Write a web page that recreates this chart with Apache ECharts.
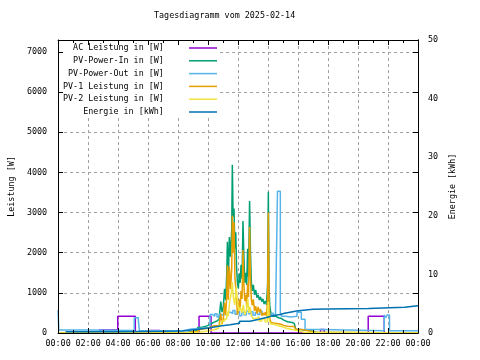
<!DOCTYPE html>
<html><head><meta charset="utf-8">
<script src="https://cdn.jsdelivr.net/npm/echarts@6/dist/echarts.min.js"></script>
<style>html,body{margin:0;padding:0;background:#fff}#c{width:480px;height:360px}</style>
</head><body><div id="c"></div>
<script>
const titleText = 'Tagesdiagramm vom 2025-02-14';
const xTickLabels = ['00:00','02:00','04:00','06:00','08:00','10:00','12:00','14:00','16:00','18:00','20:00','22:00','00:00'];
const leftAxisName = 'Leistung [W]';
const rightAxisName = 'Energie [kWh]';
const seriesNames = ['AC Leistung in [W]','PV-Power-In in [W]','PV-Power-Out in [W]','PV-1 Leistung in [W]','PV-2 Leistung in [W]','Energie in [kWh]'];

// [hour, W]
const acLeistung = [[0,0],[2.75,75],[3.98,420],[5.15,0],[6.13,60],[6.8,0],[9.4,420],[10.2,0],[17.5,90],[17.75,0],[20.68,420],[21.75,0],[24,0]];
const pvPowerIn = [[0,0],[8.2,0],[8.4,20],[8.7,40],[9.0,70],[9.3,140],[9.5,160],[9.8,190],[10.0,230],[10.2,270],[10.4,300],[10.6,340],[10.75,420],[10.85,780],[10.93,520],[11.02,650],[11.1,1100],[11.18,820],[11.25,1500],[11.29,2270],[11.35,1250],[11.42,2390],[11.5,1900],[11.58,2600],[11.62,4190],[11.67,2900],[11.73,3100],[11.79,2100],[11.85,2510],[11.9,1650],[11.96,1250],[12.02,1110],[12.08,1490],[12.14,1250],[12.2,1700],[12.27,1350],[12.33,2790],[12.39,1900],[12.45,1250],[12.52,1500],[12.58,1200],[12.64,2100],[12.7,1400],[12.77,3290],[12.83,2000],[12.89,1250],[12.95,1050],[13.02,1200],[13.1,950],[13.18,1070],[13.26,880],[13.34,950],[13.42,820],[13.5,900],[13.58,780],[13.66,850],[13.74,720],[13.82,800],[13.9,700],[13.97,1200],[14.02,3520],[14.07,1050],[14.12,650],[14.2,480],[14.3,420],[14.5,380],[14.7,360],[14.9,320],[15.05,280],[15.3,260],[15.6,240],[15.75,200],[15.85,90],[16.2,70],[16.6,50],[16.9,30],[17.1,10],[17.25,0],[24,0]];
const pvPowerOut = [[0,570],[0.05,75],[2.0,60],[5.08,380],[5.35,330],[5.42,55],[8.3,100],[8.9,130],[10.13,460],[10.3,420],[10.45,480],[10.6,400],[10.75,470],[10.9,430],[11.05,500],[11.2,450],[11.35,520],[11.5,480],[11.65,560],[11.8,470],[11.95,540],[12.1,430],[12.25,520],[12.4,450],[12.55,550],[12.7,480],[12.85,530],[13.0,440],[13.15,510],[13.3,460],[13.45,540],[13.6,470],[13.75,500],[13.9,430],[14.05,470],[14.2,500],[14.35,440],[14.5,490],[14.63,3530],[14.82,500],[14.9,420],[15.2,400],[15.5,420],[15.93,520],[16.22,340],[16.47,90],[17.6,55],[21.75,450],[21.85,380],[21.95,450],[22.1,55],[24,55]];
const pv1Leistung = [[0,0],[8.2,0],[8.4,10],[8.7,30],[9.0,45],[9.3,90],[9.5,110],[9.8,110],[10.0,150],[10.2,180],[10.4,180],[10.6,170],[10.75,220],[10.85,480],[10.93,220],[11.02,350],[11.1,750],[11.18,450],[11.25,950],[11.29,1690],[11.35,830],[11.42,1650],[11.5,1100],[11.58,1600],[11.62,2930],[11.67,2000],[11.73,2760],[11.79,1400],[11.85,1360],[11.9,900],[11.96,450],[12.02,560],[12.08,840],[12.14,600],[12.2,1050],[12.27,850],[12.33,2070],[12.39,1200],[12.45,800],[12.52,950],[12.58,650],[12.64,1240],[12.7,900],[12.77,2640],[12.83,1350],[12.89,830],[12.95,690],[13.02,840],[13.1,550],[13.18,670],[13.26,480],[13.34,650],[13.42,520],[13.5,600],[13.58,430],[13.66,500],[13.74,440],[13.82,520],[13.9,420],[13.97,850],[14.02,3000],[14.07,750],[14.12,350],[14.2,260],[14.3,240],[14.5,230],[14.7,210],[14.9,190],[15.05,170],[15.3,160],[15.6,160],[15.75,140],[15.85,90],[16.2,60],[16.6,40],[16.9,20],[17.1,10],[17.2,0],[24,0]];
const pv2Leistung = [[0,0],[8.3,0],[8.6,10],[9.0,25],[9.5,50],[10.0,80],[10.4,120],[10.7,200],[10.9,300],[11.1,350],[11.25,550],[11.35,420],[11.45,800],[11.55,1000],[11.62,1270],[11.68,900],[11.78,700],[11.88,1150],[11.95,800],[12.05,550],[12.15,650],[12.25,500],[12.35,700],[12.45,450],[12.55,550],[12.65,860],[12.72,500],[12.8,650],[12.9,420],[13.0,360],[13.2,400],[13.4,300],[13.6,350],[13.8,280],[13.95,350],[14.02,780],[14.08,300],[14.2,220],[14.4,180],[14.7,150],[15.0,110],[15.3,90],[15.6,60],[15.9,40],[16.2,20],[16.4,0],[24,0]];
// [hour, kWh]
const energie = [[0.5,0.2],[3.7,0.3],[7.0,0.35],[8.3,0.6],[9.2,0.9],[10.13,1.19],[10.8,1.4],[11.47,1.65],[12.1,2.0],[12.8,2.33],[13.4,2.65],[13.9,2.95],[14.3,3.15],[14.8,3.36],[15.1,3.55],[15.47,3.75],[15.9,3.9],[16.35,4.04],[17.0,4.1],[18.0,4.2],[20.7,4.38],[23.1,4.65],[24,4.65]];

const seriesData = [acLeistung, pvPowerIn, pvPowerOut, pv1Leistung, pv2Leistung, energie];
const colors = ['#9400d3','#009e73','#56b4e9','#e69f00','#f0e442','#0072b2'];
const FONT = 'DejaVu Sans Mono';
const FS = 8.4;
const txt = {fontFamily: FONT, fontSize: FS, color: '#000', fontWeight: 'normal'};
const black = {color: '#000', width: 1};
const gridLine = {show: true, lineStyle: {color: '#a0a0a0', width: 1, type: [3, 3]}};

const chart = echarts.init(document.getElementById('c'), null, {renderer: 'canvas'});
chart.setOption({
  animation: false,
  backgroundColor: '#fff',
  title: {text: titleText, left: 154, top: 12, padding: 0, textStyle: Object.assign({}, txt)},
  grid: {left: 58, right: 62, top: 40, bottom: 27, containLabel: false},
  legend: {
    orient: 'vertical', left: 59, top: 41, padding: [1, 3, 0, 4], itemGap: 0.8,
    itemWidth: 28, itemHeight: 1.5, align: 'right', icon: 'rect', backgroundColor: '#fff',
    selectedMode: false, data: seriesNames, formatter: n => n + '    ',
    textStyle: Object.assign({lineHeight: 12}, txt)
  },
  xAxis: [
    {type: 'value', min: 0, max: 24, interval: 2, position: 'bottom',
     axisLine: {show: false}, axisTick: {show: false}, splitLine: gridLine,
     axisLabel: Object.assign({margin: 7, showMinLabel: true, showMaxLabel: true,
       formatter: v => xTickLabels[Math.round(v / 2)]}, txt)},
    {type: 'value', min: 0, max: 24, interval: 2, position: 'bottom', z: 10,
     axisLine: {show: true, onZero: false, lineStyle: black},
     axisTick: {show: true, inside: true, length: 5, lineStyle: black},
     minorTick: {show: true, splitNumber: 2, length: 3, lineStyle: black},
     axisLabel: {show: false}, splitLine: {show: false}},
    {type: 'value', min: 0, max: 24, interval: 2, position: 'top', z: 10,
     axisLine: {show: true, onZero: false, lineStyle: black},
     axisTick: {show: true, inside: true, length: 5, lineStyle: black},
     minorTick: {show: true, splitNumber: 2, length: 3, lineStyle: black},
     axisLabel: {show: false}, splitLine: {show: false}}
  ],
  yAxis: [
    {type: 'value', min: 0, max: 7300, interval: 1000, position: 'left',
     axisLine: {show: false}, axisTick: {show: false}, splitLine: gridLine,
     axisLabel: Object.assign({margin: 11, showMaxLabel: false, padding: [0, 0, 4, 0],
       formatter: v => String(v)}, txt),
     name: leftAxisName, nameLocation: 'middle', nameRotate: 90, nameGap: 39,
     nameTextStyle: Object.assign({}, txt)},
    {type: 'value', min: 0, max: 50, interval: 10, position: 'right',
     axisLine: {show: true, onZero: false, lineStyle: black}, axisTick: {show: false}, splitLine: {show: false},
     axisLabel: Object.assign({margin: 10, padding: [0, 0, 4, 0], formatter: v => String(v)}, txt),
     name: rightAxisName, nameLocation: 'middle', nameRotate: 90, nameGap: 29,
     nameTextStyle: Object.assign({}, txt)},
    {type: 'value', min: 0, max: 7300, interval: 1000, position: 'left', z: 10,
     axisLine: {show: true, onZero: false, lineStyle: black},
     axisTick: {show: true, inside: true, length: 5, lineStyle: black},
     axisLabel: {show: false}, splitLine: {show: false}},
    {type: 'value', min: 0, max: 7300, interval: 1000, position: 'right', z: 10,
     axisLine: {show: true, onZero: false, lineStyle: black},
     axisTick: {show: true, inside: true, length: 5, lineStyle: black},
     axisLabel: {show: false}, splitLine: {show: false}}
  ],
  series: seriesNames.map((name, i) => ({
    name: name, type: 'line', step: 'end', data: seriesData[i],
    xAxisIndex: 0, yAxisIndex: i === 5 ? 1 : 0,
    showSymbol: false, symbol: 'none', silent: true,
    color: colors[i], lineStyle: {color: colors[i], width: 1.5}
  }))
});
</script></body></html>
